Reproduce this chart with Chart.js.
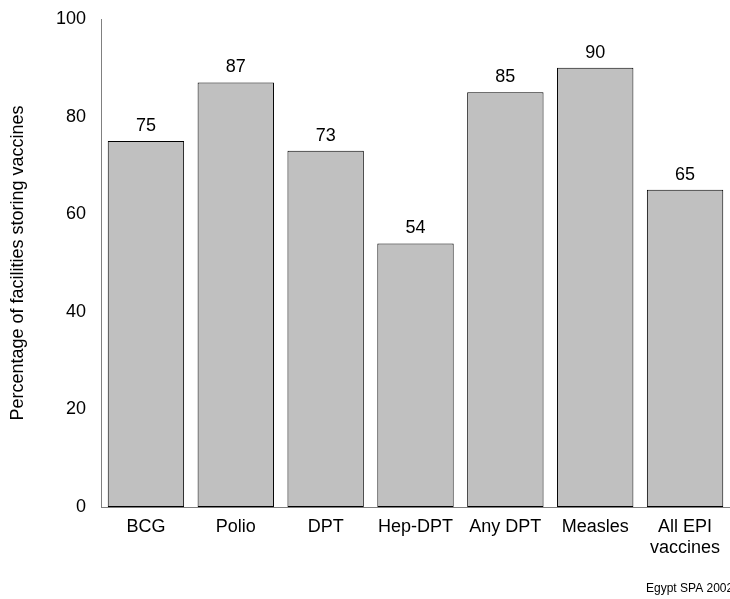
<!DOCTYPE html>
<html>
<head>
<meta charset="utf-8">
<script src="https://cdn.jsdelivr.net/npm/chart.js@4.4.1/dist/chart.umd.min.js"></script>
<style>
  html, body { margin: 0; padding: 0; background: #fff; }
  #wrap { width: 730px; height: 599px; }
</style>
</head>
<body>
<div id="wrap"><canvas id="chart" width="730" height="599"></canvas></div>
<script>
// data
const categories = ['BCG', 'Polio', 'DPT', 'Hep-DPT', 'Any DPT', 'Measles', ['All EPI', 'vaccines']];
const percentages = [75, 87, 73, 54, 85, 90, 65];
const yTicks = [0, 20, 40, 60, 80, 100];
const yTitle = 'Percentage of facilities storing vaccines';
const sourceNote = 'Egypt SPA 2002';

const FONT = '"Liberation Sans", Arial, sans-serif';

// draws the number above each bar
const valueLabels = {
  id: 'valueLabels',
  afterDatasetsDraw(chart) {
    const ctx = chart.ctx;
    const meta = chart.getDatasetMeta(0);
    ctx.save();
    ctx.font = '18px ' + FONT;
    ctx.fillStyle = '#000';
    ctx.textAlign = 'center';
    ctx.textBaseline = 'middle';
    meta.data.forEach((bar, i) => {
      ctx.fillText(String(percentages[i]), bar.x, bar.y - 15);
    });
    ctx.restore();
  }
};

// small source note at bottom right
const footNote = {
  id: 'footNote',
  afterDraw(chart) {
    const ctx = chart.ctx;
    ctx.save();
    ctx.font = '12px ' + FONT;
    ctx.fillStyle = '#000';
    ctx.textAlign = 'left';
    ctx.textBaseline = 'middle';
    ctx.fillText(sourceNote, 646, 589);
    ctx.restore();
  }
};

// fixed box sizes so the plot area lands where the reference has it
function noPad(scale) {
  scale.paddingTop = 0;
  scale.paddingBottom = 0;
  scale.paddingLeft = 0;
  scale.paddingRight = 0;
}

new Chart(document.getElementById('chart').getContext('2d'), {
  type: 'bar',
  data: {
    labels: categories,
    datasets: [{
      data: percentages,
      backgroundColor: '#c0c0c0',
      borderColor: '#000',
      borderWidth: 1,
      borderSkipped: false,
      categoryPercentage: 1,
      barPercentage: 0.85
    }]
  },
  options: {
    responsive: false,
    animation: false,
    layout: { padding: { top: 19, right: 0, left: 0, bottom: 0 } },
    plugins: {
      legend: { display: false },
      tooltip: { enabled: false }
    },
    scales: {
      x: {
        grid: { display: false, drawTicks: false },
        border: { color: '#808080', width: 1 },
        ticks: { color: '#000', font: { family: FONT, size: 18, lineHeight: 1.15 }, padding: 10, maxRotation: 0, autoSkip: false },
        afterFit(scale) { scale.height = 92; noPad(scale); }
      },
      y: {
        min: 0,
        max: 100,
        afterBuildTicks(scale) { scale.ticks = yTicks.map(v => ({ value: v })); },
        grid: { display: false, drawTicks: false },
        border: { color: '#808080', width: 1 },
        ticks: { color: '#000', font: { family: FONT, size: 18 }, padding: 15 },
        title: { display: true, text: yTitle, color: '#000', font: { family: FONT, size: 18 }, padding: { top: 7, bottom: 0 } },
        afterFit(scale) { scale.width = 101; noPad(scale); }
      }
    }
  },
  plugins: [valueLabels, footNote]
});
</script>
</body>
</html>
